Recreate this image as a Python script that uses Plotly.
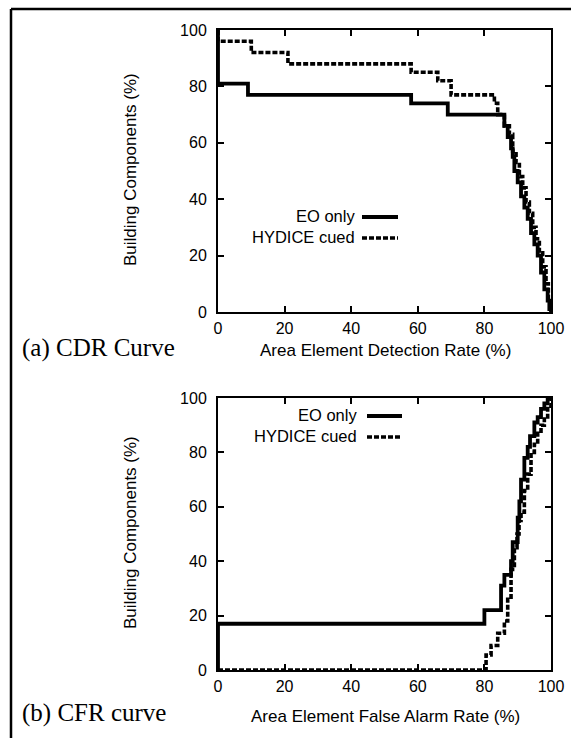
import plotly.graph_objects as go

W, H = 571, 738

# (a) CDR curve: building components vs. area element detection rate
cdr_eo_x = [0, 0, 9, 58, 69, 86, 87, 88, 88.5, 89, 90, 91, 92, 93, 94, 95, 96, 97, 98, 99, 99.5, 100]
cdr_eo_y = [100, 81, 77, 74, 70, 66, 62, 58, 55, 50, 46, 41, 37, 33, 28, 24, 20, 14, 8, 4, 1, 0]
cdr_hy_x = [0, 0, 10, 21, 58, 66, 70, 83, 84, 86, 87.5, 88.5, 89.5, 90.5, 91.5, 92.5, 93.5, 94.5, 95.5, 96.5, 97.5, 98.5, 99.2, 100]
cdr_hy_y = [100, 96, 92, 88, 85, 82, 77, 74, 70, 66, 63, 57, 53, 48, 44, 39, 35, 30, 26, 21, 16, 10, 5, 0]

# (b) CFR curve: building components vs. area element false alarm rate
cfr_eo_x = [0, 0, 80, 85, 86, 88, 88.5, 90, 90.5, 91, 92, 93, 93.7, 95, 96, 97, 98, 99, 100]
cfr_eo_y = [0, 17, 22, 31, 35, 40, 47, 56, 62, 70, 78, 82, 86, 91, 93, 96, 98, 100, 100]
cfr_hy_x = [0, 80, 80.5, 82, 84, 86, 87, 88, 89, 89.8, 90.4, 91, 92, 93, 94, 95, 96, 97, 98, 99, 100]
cfr_hy_y = [0, 0, 5.5, 9, 13.5, 18, 26, 37, 45, 50, 55, 58, 66, 72, 80, 83, 87, 90, 93, 97, 100]

ticks = [0, 20, 40, 60, 80, 100]

SANS = "Liberation Sans, Arial, Helvetica, sans-serif"
SERIF = "Liberation Serif, Times New Roman, serif"
DASH = "5px,2px"

fig = go.Figure()

def add_pair(ex, ey, hx, hy, xa, ya):
    fig.add_trace(go.Scatter(x=ex, y=ey, mode="lines", line_shape="hv",
                             line=dict(color="black", width=3.8),
                             xaxis=xa, yaxis=ya, showlegend=False, cliponaxis=False))
    fig.add_trace(go.Scatter(x=hx, y=hy, mode="lines", line_shape="hv",
                             line=dict(color="black", width=3.6, dash=DASH),
                             xaxis=xa, yaxis=ya, showlegend=False, cliponaxis=False))

add_pair(cdr_eo_x, cdr_eo_y, cdr_hy_x, cdr_hy_y, "x", "y")
add_pair(cfr_eo_x, cfr_eo_y, cfr_hy_x, cfr_hy_y, "x2", "y2")

def px_x(p):
    return p / W

def px_y(p):
    return 1 - p / H

axis_common = dict(range=[0, 100], tickvals=ticks, ticktext=[str(t) for t in ticks],
                   showline=True, linecolor="black", linewidth=2, mirror="allticks",
                   ticks="inside", ticklen=6, tickwidth=2, tickcolor="black",
                   showgrid=False, zeroline=False, fixedrange=True, automargin=False,
                   tickfont=dict(family=SANS, size=16, color="black"))

x_dom = [px_x(218), px_x(551)]
fig.update_layout(
    width=W, height=H,
    margin=dict(l=0, r=0, t=0, b=0, pad=0, autoexpand=False),
    paper_bgcolor="white", plot_bgcolor="white",
    xaxis=dict(domain=x_dom, anchor="y", ticklabelstandoff=1, **axis_common),
    yaxis=dict(domain=[px_y(312), px_y(30)], anchor="x", ticklabelstandoff=6, **axis_common),
    xaxis2=dict(domain=x_dom, anchor="y2", ticklabelstandoff=1, **axis_common),
    yaxis2=dict(domain=[px_y(670), px_y(398)], anchor="x2", ticklabelstandoff=6, **axis_common),
)

ann = []
def text(x, y, s, size, family=SANS, angle=0, xanchor="center"):
    ann.append(dict(x=px_x(x), y=px_y(y), xref="paper", yref="paper", text=s,
                    showarrow=False, textangle=angle, xanchor=xanchor, yanchor="middle",
                    borderpad=0, font=dict(family=family, size=size, color="black")))

# axis titles
text(385, 350, "Area Element Detection Rate (%)", 17)
text(385, 716, "Area Element False Alarm Rate (%)", 17)
text(130, 170, "Building Components (%)", 17, angle=-90)
text(130, 533, "Building Components (%)", 17, angle=-90)

# panel captions
text(21, 348, "(a) CDR Curve", 25, family=SERIF, xanchor="left")
text(21, 713, "(b) CFR curve", 25, family=SERIF, xanchor="left")

# legends: label text on the left, line sample on the right
shapes = []
def legend(y_eo, y_hy, x_text, x0, x1):
    text(x_text, y_eo, "EO only", 16.5, xanchor="right")
    text(x_text, y_hy, "HYDICE cued", 16.5, xanchor="right")
    shapes.append(dict(type="line", xref="paper", yref="paper",
                       x0=px_x(x0), x1=px_x(x1), y0=px_y(y_eo + 1), y1=px_y(y_eo + 1),
                       line=dict(color="black", width=3.8)))
    shapes.append(dict(type="line", xref="paper", yref="paper",
                       x0=px_x(x0), x1=px_x(x1), y0=px_y(y_hy + 1), y1=px_y(y_hy + 1),
                       line=dict(color="black", width=3.6, dash=DASH)))

legend(216, 237, 356, 362, 398)
legend(415, 436, 358, 367, 402)

# outer frame (top and left edges)
shapes.append(dict(type="line", xref="paper", yref="paper", x0=px_x(11), x1=1.0,
                   y0=px_y(9), y1=px_y(9), line=dict(color="black", width=2.5)))
shapes.append(dict(type="line", xref="paper", yref="paper", x0=px_x(11), x1=px_x(11),
                   y0=px_y(9), y1=0, line=dict(color="black", width=2.5)))

fig.update_layout(annotations=ann, shapes=shapes)

fig.write_html("out.html")

# drop the browser's default page margin so the figure fills the window exactly
with open("out.html", encoding="utf-8") as f:
    page = f.read()
page = page.replace("<head>", "<head><style>html,body{margin:0;padding:0;overflow:hidden;}</style>", 1)
with open("out.html", "w", encoding="utf-8") as f:
    f.write(page)
